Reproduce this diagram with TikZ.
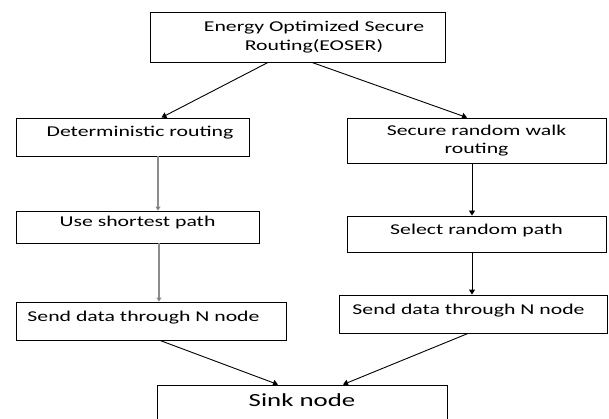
\documentclass[tikz,border=0pt]{standalone}
\usepackage{fontspec}
\setmainfont[FakeStretch=1.45]{Carlito}
\usetikzlibrary{arrows.meta}

\begin{document}
\begin{tikzpicture}[x=1pt, y=-1pt,
    box/.style={draw, line width=0.9pt, inner sep=0pt, align=center,
      font=\fontsize{15}{19}\selectfont},
    onebox/.style={box, text height=8pt, text depth=8pt},
    flow/.style={line width=0.9pt, -{Triangle[length=5pt, width=6pt]}},
    greyflow/.style={draw=black!45, line width=1.6pt,
      -{Triangle[length=4pt, width=5pt, fill=black]}}]
  \useasboundingbox (0, 0) rectangle (609, 419);

  % EOSER
  \node [box, minimum width=295pt, minimum height=50pt] (eoser) at (297.5, 37)
    {\hspace*{33pt}Energy Optimized Secure\\\hspace*{33pt}Routing(EOSER)};

  % Deterministic branch
  \node [onebox, minimum width=233pt, minimum height=38pt] (det) at (132.5, 137)
    {\hspace*{15pt}Deterministic routing};
  \node [onebox, minimum width=243pt, minimum height=32pt] (usp) at (137.5, 227)
    {Use shortest path};
  \node [onebox, minimum width=270pt, minimum height=38pt] (sdl) at (151, 321)
    {Send data through N node\hspace*{15pt}};

  % Random walk branch
  \node [box, minimum width=259pt, minimum height=45pt,
    font=\fontsize{15}{18}\selectfont] (srw) at (476.5, 140.5)
    {Secure random walk\\routing};
  \node [onebox, minimum width=259pt, minimum height=36pt] (srp) at (476.5, 234)
    {Select random path};
  \node [onebox, minimum width=268pt, minimum height=38pt] (sdr) at (473, 314)
    {Send data through N node\hspace*{9pt}};

  % Sink
  \node [box, minimum width=290pt, minimum height=40pt, text depth=10pt,
    font=\fontsize{18.5}{22}\selectfont] (sink) at (302, 405) {Sink node};

  % Connectors
  \draw [flow] ([xshift=-29.5pt]eoser.south) -- ([xshift=29pt]det.north);
  \draw [flow] ([xshift=14.5pt]eoser.south) -- ([xshift=-9.5pt]srw.north);
  \draw [greyflow] ([xshift=25.5pt]det.south) -- ([xshift=25.5pt]det.south |- usp.north);
  \draw [greyflow] ([xshift=21.5pt]usp.south) -- ([xshift=21.5pt]usp.south |- sdl.north);
  \draw [flow] ([xshift=-4.5pt]srw.south) -- ([xshift=-4.5pt]srw.south |- srp.north);
  \draw [flow] ([xshift=-4.5pt]srp.south) -- ([xshift=-4.5pt]srp.south |- sdr.north);
  \draw [flow] ([xshift=9pt]sdl.south) -- ([xshift=-24pt]sink.north);
  \draw [flow] ([xshift=-5pt]sdr.south) -- ([xshift=41pt]sink.north);
\end{tikzpicture}
\end{document}
